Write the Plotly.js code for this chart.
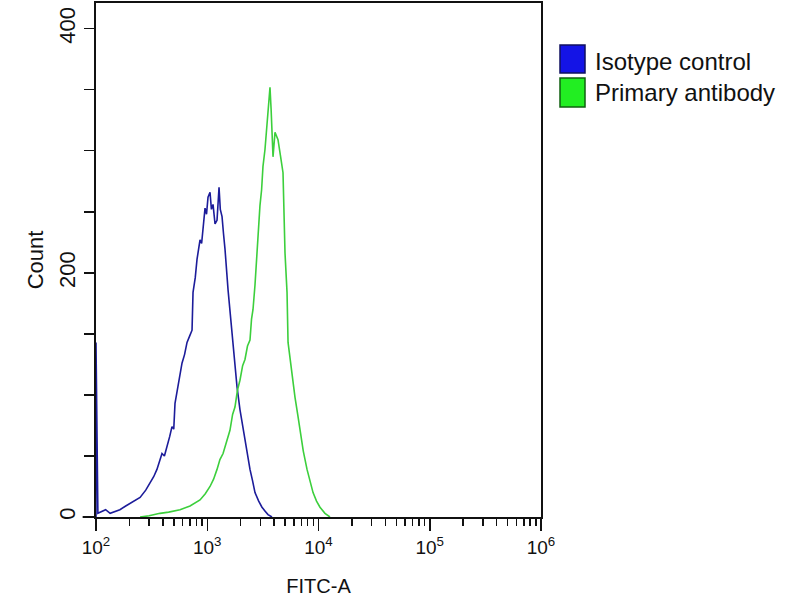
<!DOCTYPE html>
<html>
<head>
<meta charset="utf-8">
<script src="https://cdn.plot.ly/plotly-3.0.1.min.js"></script>
<style>
  body { margin: 0; background: #fff; }
  #chart { width: 800px; height: 600px; }
</style>
</head>
<body>
<div id="chart"></div>
<script>
// Isotype control histogram (FITC-A, count)
const isoX = [100, 100, 104, 109, 122, 134, 150, 164, 185, 202, 225, 249, 280, 306, 330, 353, 375, 392, 412,
  435, 460, 482, 500, 513, 530, 546, 570, 593, 625, 658, 700, 730, 745, 780, 809, 835, 861, 890, 916, 955,
  985, 1016, 1059, 1090, 1127, 1175, 1224, 1276, 1310, 1358, 1400, 1445, 1538, 1600, 1700, 1780, 1850,
  1968, 2080, 2183, 2300, 2422, 2550, 2686, 2900, 3104, 3300, 3516, 3818];
const isoY = [0, 143, 3, 4, 6, 3, 5, 6, 9, 11, 13, 16, 22, 28, 33, 39, 46, 52, 50,
  57, 66, 74, 72, 93, 101, 107, 115, 126, 133, 143, 149, 153, 184, 196, 211, 218, 227, 224, 235, 253,
  248, 262, 266, 252, 256, 240, 243, 270, 252, 246, 232, 219, 186, 170, 140, 122, 107,
  88, 74, 63, 50, 39, 30, 20, 13, 8, 5, 2, 0];

// Primary antibody histogram
const abX = [249, 300, 376, 450, 569, 700, 861, 960, 1059, 1140, 1224, 1300, 1387, 1500, 1600, 1690, 1775,
  1870, 1968, 2080, 2183, 2300, 2422, 2500, 2578, 2686, 2797, 2900, 2977, 3080, 3168, 3303, 3444, 3560,
  3664, 3750, 3818, 3900, 4064, 4200, 4325, 4550, 4797, 5001, 5213, 5325, 5548, 5850, 6150, 6500,
  6821, 7300, 7887, 8400, 8934, 9600, 10310, 11430, 12680];
const abY = [0, 1, 3, 4, 6, 9, 14, 19, 25, 31, 39, 47, 52, 63, 71, 84, 90, 104, 112, 124, 129, 140, 145,
  162, 170, 190, 219, 236, 255, 268, 287, 301, 320, 332, 352, 334, 320, 295, 315, 312, 309, 296, 282,
  216, 184, 143, 129, 112, 98, 84, 71, 54, 39, 28, 20, 13, 8, 3, 0];

const seriesNames = ["Isotype control", "Primary antibody"];
const xTickVals = [100, 1000, 10000, 100000, 1000000];
const xTickText = ["10<sup>2</sup>", "10<sup>3</sup>", "10<sup>4</sup>", "10<sup>5</sup>", "10<sup>6</sup>"];
const yTickVals = [0, 200, 400];

const data = [
  { x: isoX, y: isoY, name: seriesNames[0], type: "scatter", mode: "lines",
    line: { color: "#1c1c9a", width: 1.6 }, showlegend: false },
  { x: abX, y: abY, name: seriesNames[1], type: "scatter", mode: "lines",
    line: { color: "#3ccf3c", width: 1.6 }, showlegend: false }
];

const font = "Liberation Sans, Arial, sans-serif";

const layout = {
  width: 800, height: 600,
  margin: { l: 96, r: 259, t: 3, b: 83 },
  paper_bgcolor: "#fff", plot_bgcolor: "#fff",
  font: { family: font, color: "#111" },
  xaxis: {
    type: "log", range: [2, 6],
    showgrid: false, zeroline: false,
    showline: true, linecolor: "#111", linewidth: 2, mirror: true,
    ticks: "outside", ticklen: 12, tickwidth: 1.5, tickcolor: "#111",
    tickvals: xTickVals, ticktext: xTickText,
    tickfont: { size: 19, family: font },
    minor: { ticks: "outside", ticklen: 7, tickwidth: 1.5, tickcolor: "#111", dtick: "D1", showgrid: false },
    title: { text: "FITC-A", font: { size: 20, family: font }, standoff: 22 }
  },
  yaxis: {
    range: [0, 421],
    showgrid: false, zeroline: false,
    showline: true, linecolor: "#111", linewidth: 2, mirror: true,
    ticks: "outside", ticklen: 10, tickwidth: 1.5, tickcolor: "#111",
    tickvals: yTickVals, tickangle: -90,
    tickfont: { size: 22, family: font },
    minor: { ticks: "outside", ticklen: 10, tickwidth: 1.5, tickcolor: "#111", dtick: 50, tick0: 0, showgrid: false },
    title: { text: "Count", font: { size: 22, family: font }, standoff: 6 }
  },
  shapes: [
    // axis line running a little past the left edge
    { type: "line", xref: "paper", yref: "paper", x0: -0.03, x1: 0, y0: 0, y1: 0,
      line: { color: "#111", width: 2 } },
    // legend boxes
    { type: "rect", xref: "paper", yref: "paper", x0: 1.0427, x1: 1.0989, y0: 0.8638, y1: 0.9183,
      fillcolor: "#1414e6", line: { color: "#101060", width: 1.5 } },
    { type: "rect", xref: "paper", yref: "paper", x0: 1.0427, x1: 1.0989, y0: 0.7977, y1: 0.8541,
      fillcolor: "#22ee22", line: { color: "#106010", width: 1.5 } }
  ],
  annotations: [
    { xref: "paper", yref: "paper", x: 1.1169, y: 0.886, xanchor: "left", yanchor: "middle",
      text: seriesNames[0], showarrow: false, font: { size: 24, family: font, color: "#111" } },
    { xref: "paper", yref: "paper", x: 1.1169, y: 0.825, xanchor: "left", yanchor: "middle",
      text: seriesNames[1], showarrow: false, font: { size: 24, family: font, color: "#111" } }
  ]
};

Plotly.newPlot("chart", data, layout, { displayModeBar: false, staticPlot: true });
</script>
</body>
</html>
